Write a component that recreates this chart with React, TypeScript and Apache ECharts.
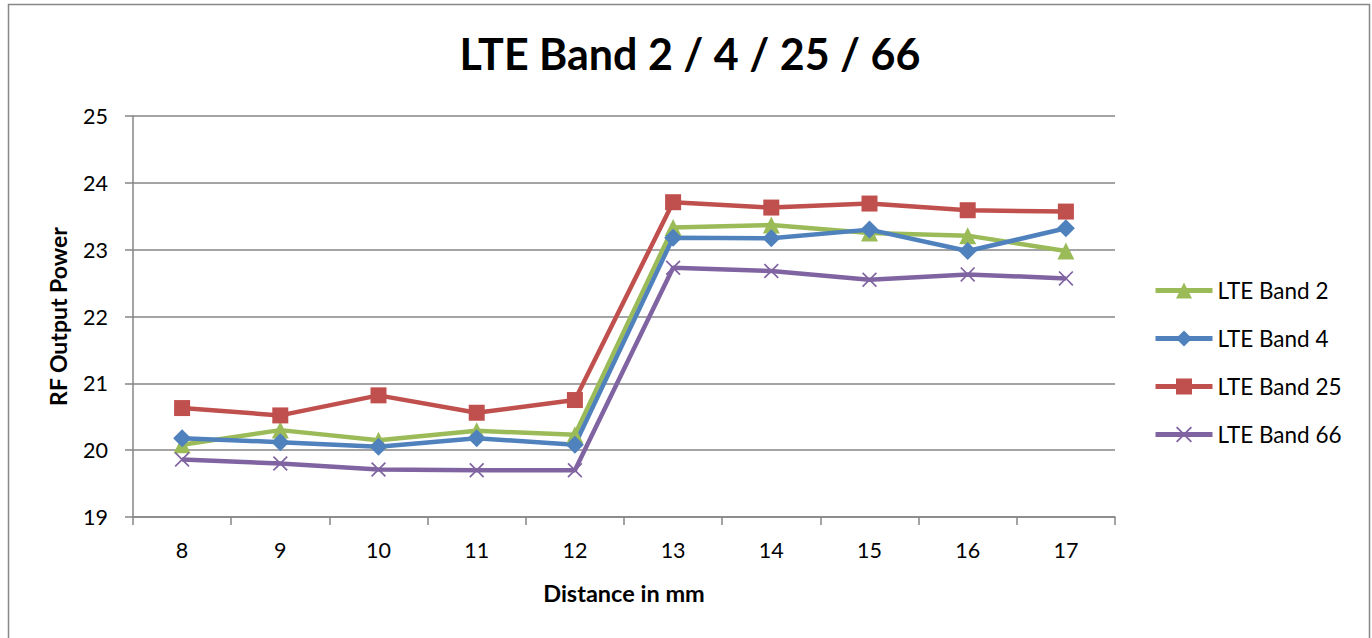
import React, { useEffect, useRef } from "react";
import * as echarts from "echarts";

const TITLE = "LTE Band 2 / 4 / 25 / 66";
const X_NAME = "Distance in mm";
const Y_NAME = "RF Output Power";
const categories = ["8", "9", "10", "11", "12", "13", "14", "15", "16", "17"];
const band2 = [20.08, 20.3, 20.15, 20.29, 20.23, 23.33, 23.37, 23.25, 23.21, 22.98];
const band4 = [20.18, 20.12, 20.05, 20.18, 20.08, 23.18, 23.17, 23.3, 22.98, 23.32];
const band25 = [20.63, 20.52, 20.82, 20.56, 20.75, 23.71, 23.63, 23.69, 23.59, 23.57];
const band66 = [19.86, 19.8, 19.71, 19.7, 19.7, 22.73, 22.68, 22.55, 22.63, 22.57];
const seriesNames = ["LTE Band 2", "LTE Band 4", "LTE Band 25", "LTE Band 66"];
const yMin = 19;
const yMax = 25;

const FONT = "Lato, 'Open Sans', sans-serif";
const GRID_COLOR = "#868686";
const X_SYMBOL =
  "path://M0,0.8 L0.8,0 L5,4.2 L9.2,0 L10,0.8 L5.8,5 L10,9.2 L9.2,10 L5,5.8 L0.8,10 L0,9.2 L4.2,5 Z";

export default function App() {
  const ref = useRef<HTMLDivElement>(null);
  useEffect(() => {
    if (!ref.current) return;
    const chart = echarts.init(ref.current, undefined, { renderer: "svg" });
    const mk = (name: string, data: number[], color: string, symbol: string, size: number) => ({
      name,
      type: "line",
      data,
      symbol,
      symbolSize: size,
      showSymbol: true,
      lineStyle: { color, width: 4.5 },
      itemStyle: { color },
      emphasis: { disabled: true },
    });
    chart.setOption({
      animation: false,
      textStyle: { fontFamily: FONT },
      title: {
        text: TITLE,
        left: 685,
        top: 27,
        textAlign: "center",
        textStyle: { fontFamily: FONT, fontSize: 43, fontWeight: "bold", color: "#000" },
      },
      graphic: [
        {
          type: "rect",
          shape: { x: 8.5, y: 4.5, width: 1361, height: 700 },
          style: { fill: "none", stroke: "#878787", lineWidth: 1.5 },
          silent: true,
        },
      ],
      legend: {
        orient: "vertical",
        left: 1153,
        top: 279,
        padding: 0,
        itemWidth: 57,
        itemHeight: 20,
        itemGap: 25,
        data: seriesNames,
        lineStyle: { width: 5 },
        textStyle: { fontFamily: FONT, fontSize: 22.5, color: "#000", padding: [0, 0, 0, 0] },
      },
      grid: { left: 133, top: 116, width: 982, height: 401, containLabel: false },
      xAxis: {
        type: "category",
        data: categories,
        boundaryGap: true,
        name: X_NAME,
        nameLocation: "middle",
        nameGap: 64,
        nameTextStyle: { fontFamily: FONT, fontSize: 23.5, fontWeight: "bold", color: "#000" },
        axisLine: { lineStyle: { color: GRID_COLOR, width: 1.5 } },
        axisTick: { show: true, interval: 0, alignWithLabel: false, length: 8, lineStyle: { color: GRID_COLOR, width: 1.5 } },
        axisLabel: { fontFamily: FONT, fontSize: 21.5, color: "#000", margin: 22 },
      },
      yAxis: {
        type: "value",
        min: yMin,
        max: yMax,
        interval: 1,
        name: Y_NAME,
        nameLocation: "middle",
        nameGap: 64,
        nameRotate: 90,
        nameTextStyle: { fontFamily: FONT, fontSize: 23, fontWeight: "bold", color: "#000" },
        axisLine: { show: true, lineStyle: { color: GRID_COLOR, width: 1.5 } },
        axisTick: { show: true, length: 8, lineStyle: { color: GRID_COLOR, width: 1.5 } },
        axisLabel: { fontFamily: FONT, fontSize: 21.5, color: "#000", margin: 25 },
        splitLine: { show: true, lineStyle: { color: GRID_COLOR, width: 1.5 } },
      },
      series: [
        mk(seriesNames[0], band2, "#9BBB59", "triangle", 17),
        mk(seriesNames[1], band4, "#4F81BD", "diamond", 18),
        mk(seriesNames[2], band25, "#C0504D", "rect", 16),
        mk(seriesNames[3], band66, "#8064A2", X_SYMBOL, 15),
      ],
    });
    return () => chart.dispose();
  }, []);
  return (
    <div
      ref={ref}
      style={{ position: "fixed", left: 0, top: 0, width: 1372, height: 638, background: "#fff" }}
    />
  );
}
